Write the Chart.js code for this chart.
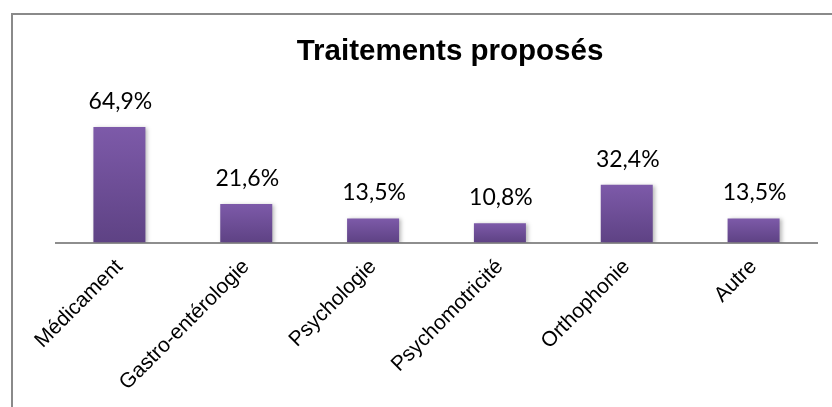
<!DOCTYPE html>
<html>
<head>
<meta charset="utf-8">
<script src="https://cdn.jsdelivr.net/npm/chart.js@4.4.1/dist/chart.umd.min.js"></script>
<style>
  html, body { margin: 0; padding: 0; background: #ffffff; }
  #wrap { width: 832px; height: 407px; position: relative; }
</style>
</head>
<body>
<div id="wrap"><canvas id="c" width="832" height="407"></canvas></div>
<script>
const chartTitle = 'Traitements proposés';
const categories = ['Médicament', 'Gastro-entérologie', 'Psychologie', 'Psychomotricité', 'Orthophonie', 'Autre'];
const values = [64.9, 21.6, 13.5, 10.8, 32.4, 13.5];
const valueLabels = ['64,9%', '21,6%', '13,5%', '10,8%', '32,4%', '13,5%'];

const framePlugin = {
  id: 'frame',
  beforeDraw(chart) {
    const ctx = chart.ctx;
    ctx.save();
    ctx.fillStyle = '#ffffff';
    ctx.fillRect(0, 0, chart.width, chart.height);
    ctx.strokeStyle = '#8a8a8a';
    ctx.lineWidth = 2;
    ctx.beginPath();
    ctx.moveTo(12, chart.height + 5);
    ctx.lineTo(12, 14);
    ctx.lineTo(chart.width + 5, 14);
    ctx.stroke();
    ctx.restore();
  }
};

const titlePlugin = {
  id: 'customTitle',
  afterDraw(chart) {
    const ctx = chart.ctx;
    ctx.save();
    ctx.fillStyle = '#000000';
    ctx.font = 'bold 29.5px "Liberation Sans", Arial, sans-serif';
    ctx.textAlign = 'center';
    ctx.textBaseline = 'alphabetic';
    ctx.fillText(chartTitle, 450, 60);
    ctx.restore();
  }
};

const shadowPlugin = {
  id: 'barShadow',
  beforeDatasetsDraw(chart) {
    const ctx = chart.ctx;
    ctx.save();
    ctx.shadowColor = 'rgba(0,0,0,0.28)';
    ctx.shadowBlur = 4;
    ctx.shadowOffsetX = 2;
    ctx.shadowOffsetY = 1;
  },
  afterDatasetsDraw(chart) {
    chart.ctx.restore();
  }
};

const valueLabelPlugin = {
  id: 'valueLabels',
  afterDatasetsDraw(chart) {
    const ctx = chart.ctx;
    const meta = chart.getDatasetMeta(0);
    ctx.save();
    ctx.fillStyle = '#000000';
    ctx.font = '23px Lato, "Open Sans", sans-serif';
    ctx.textAlign = 'center';
    ctx.textBaseline = 'alphabetic';
    meta.data.forEach((bar, i) => {
      ctx.fillText(valueLabels[i], bar.x + 1, bar.y - 18);
    });
    ctx.restore();
  }
};

function barGradient(context) {
  const chart = context.chart;
  const area = chart.chartArea;
  if (!area || context.type !== 'data') return '#6f4f99';
  const yScale = chart.scales.y;
  const top = yScale.getPixelForValue(context.raw);
  const bottom = yScale.getPixelForValue(0);
  if (!isFinite(top) || !isFinite(bottom) || top === bottom) return '#6f4f99';
  const g = chart.ctx.createLinearGradient(0, top, 0, bottom);
  g.addColorStop(0, '#7d5aa9');
  g.addColorStop(1, '#5e4284');
  return g;
}

new Chart(document.getElementById('c'), {
  type: 'bar',
  data: {
    labels: categories,
    datasets: [{
      data: values,
      backgroundColor: barGradient,
      borderWidth: 0,
      categoryPercentage: 1,
      barPercentage: 0.41
    }]
  },
  options: {
    responsive: false,
    animation: false,
    devicePixelRatio: 1,
    layout: { padding: { left: 56, right: 15, top: 118, bottom: 0 } },
    plugins: {
      legend: { display: false },
      title: { display: false },
      tooltip: { enabled: false }
    },
    scales: {
      y: {
        display: false,
        min: 0,
        max: 70
      },
      x: {
        grid: { display: false, drawTicks: false },
        border: { display: true, color: '#8e8e8e', width: 2 },
        ticks: {
          minRotation: 45,
          maxRotation: 45,
          padding: 12,
          color: '#000000',
          font: { family: '"Liberation Sans", Arial, sans-serif', size: 21 }
        },
        afterFit(scale) { scale.height = 164.5; }
      }
    }
  },
  plugins: [framePlugin, shadowPlugin, valueLabelPlugin, titlePlugin]
});
</script>
</body>
</html>
